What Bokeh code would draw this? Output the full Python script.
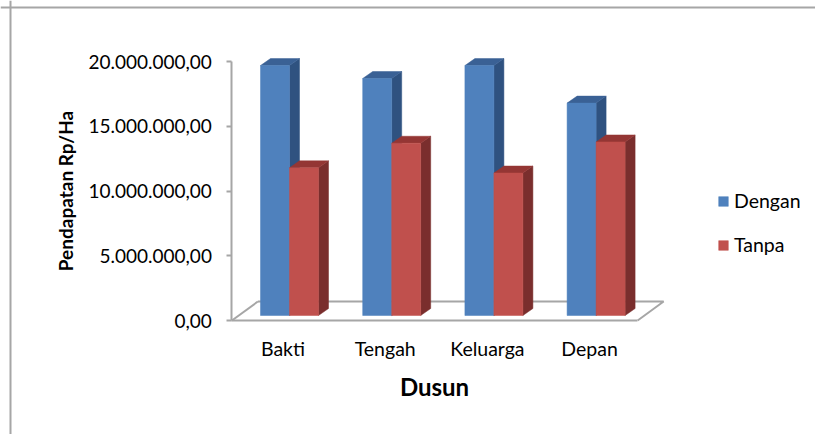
import numpy as np
from bokeh.embed import file_html
from bokeh.resources import INLINE
from bokeh.plotting import figure
from bokeh.models import (FixedTicker, Legend, LegendItem, LinearAxis, Range1d, Span)

categories = ["Bakti", "Tengah", "Keluarga", "Depan"]
dengan = [19300000, 18300000, 19300000, 16400000]
tanpa = [11400000, 13300000, 11000000, 13400000]
y_ticks = [0, 5000000, 10000000, 15000000, 20000000]
y_tick_labels = ["0,00", "5.000.000,00", "10.000.000,00", "15.000.000,00", "20.000.000,00"]

W, H = 815, 434
PX_X = 102.2          # px per category
PX_Y = 259 / 20000000 # px per value
X0, Y0 = 282.5, 320   # canvas position of first category / of value zero
BAR_W = 29 / PX_X
DX, DY = 10 / PX_X, 7 / PX_Y
BASE = 5 / PX_Y
GREY = "#a6a6a6"
FONT = "Lato"

p = figure(width=W, height=H, output_backend="svg", toolbar_location=None,
           x_range=Range1d(-X0 / PX_X, (W - X0) / PX_X),
           y_range=Range1d(-(H - Y0) / PX_Y, Y0 / PX_Y),
           x_axis_location=None, y_axis_location=None, min_border=0,
           outline_line_color=None, background_fill_color=None, border_fill_color="white")
p.grid.visible = False

# floor
fl = 26 / PX_X
fh = 19 / PX_Y
p.line([-0.5 + fl, 3.47 + fl, 3.47], [fh, fh, 0], line_color=GREY, line_width=2)
p.line([-0.5, -0.5 + fl], [0, fh], line_color=GREY, line_width=2)


def bar(vals, offset, front, top, side):
    xs = np.arange(len(vals)) + offset
    v = np.array(vals, dtype=float) + BASE
    l, r = xs, xs + BAR_W
    tops = [[a, a + DX, b + DX, b] for a, b in zip(l, r)]
    tops_y = [[t, t + DY, t + DY, t] for t in v]
    sides = [[b, b + DX, b + DX, b] for b in r]
    sides_y = [[BASE, BASE + DY, t + DY, t] for t in v]
    p.patches(sides, sides_y, fill_color=side, line_color=side, line_width=0.5)
    p.patches(tops, tops_y, fill_color=top, line_color=top, line_width=0.5)
    return p.quad(left=l, right=r, bottom=BASE, top=v, fill_color=front, line_color=front, line_width=0.5)


offs = -22.5 / PX_X
r1 = bar(dengan, offs, "#4f81bd", "#3a6195", "#2f5280")
r2 = bar(tanpa, offs + BAR_W, "#c0504d", "#943634", "#7a2e2d")

xa = LinearAxis(fixed_location=0, bounds=(-0.5, 3.47), ticker=FixedTicker(ticks=list(range(len(categories)))),
                major_label_overrides={i: c for i, c in enumerate(categories)})
xa.axis_line_color = GREY
xa.axis_line_width = 2
xa.major_tick_line_color = None
xa.minor_tick_line_color = None
xa.major_label_text_font = FONT
xa.major_label_text_font_size = "19.5px"
xa.major_label_text_color = "#000000"
xa.major_label_standoff = 10
xa.axis_label = "Dusun"
xa.axis_label_text_font = FONT
xa.axis_label_text_font_size = "24px"
xa.axis_label_text_font_style = "bold"
xa.axis_label_text_color = "#000000"
xa.axis_label_standoff = 9
p.add_layout(xa, "below")

ya = LinearAxis(fixed_location=-0.5, bounds=(0, 20000000), ticker=FixedTicker(ticks=y_ticks),
                major_label_overrides=dict(zip(y_ticks, y_tick_labels)))
ya.axis_line_color = GREY
ya.axis_line_width = 2
ya.major_tick_line_color = GREY
ya.major_tick_line_width = 2
ya.major_tick_in = 0
ya.major_tick_out = 5
ya.minor_tick_line_color = None
ya.major_label_text_font = FONT
ya.major_label_text_font_size = "19px"
ya.major_label_text_color = "#000000"
ya.major_label_standoff = 15
ya.axis_label = "Pendapatan Rp/Ha"
ya.axis_label_text_font = FONT
ya.axis_label_text_font_size = "19px"
ya.axis_label_text_font_style = "bold"
ya.axis_label_text_color = "#000000"
ya.axis_label_standoff = 8
p.add_layout(ya, "left")

leg = Legend(items=[LegendItem(label="Dengan", renderers=[r1]), LegendItem(label="Tanpa", renderers=[r2])],
             location=(717, 178), orientation="vertical", background_fill_alpha=0, border_line_color=None,
             glyph_width=12, glyph_height=12, label_standoff=5, spacing=21, padding=0, margin=0,
             label_text_font=FONT, label_text_font_size="19.5px", label_text_color="#000000", label_height=20)
p.add_layout(leg)

p.add_layout(Span(location=H - 7, location_units="screen", dimension="width", line_color=GREY, line_width=2))
p.add_layout(Span(location=10, location_units="screen", dimension="height", line_color=GREY, line_width=2))

open("out.html", "w").write(file_html(p, INLINE))
